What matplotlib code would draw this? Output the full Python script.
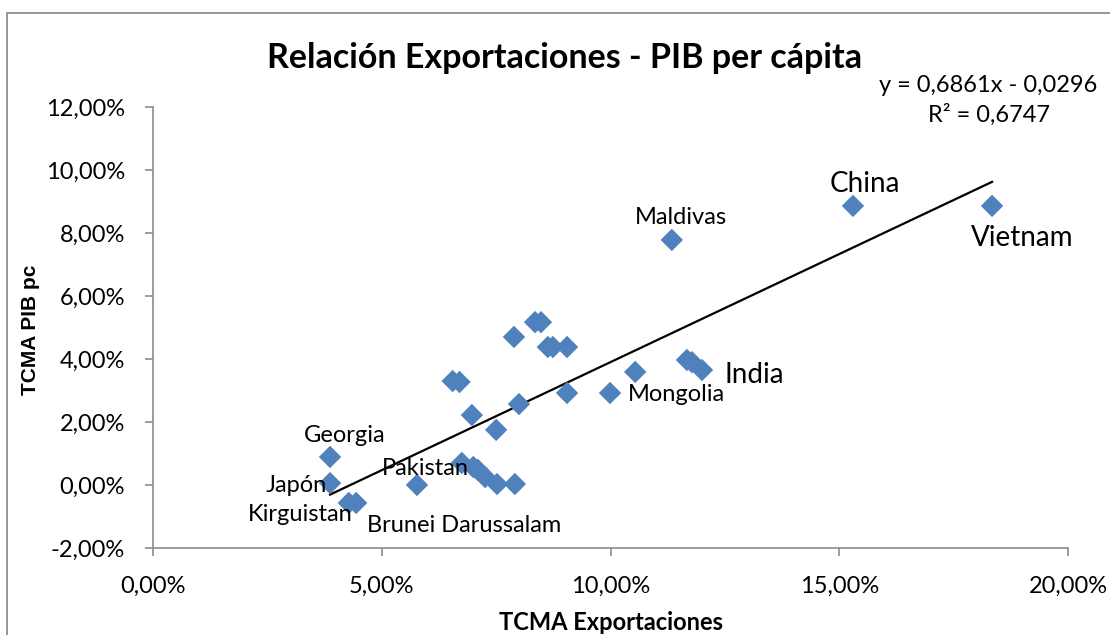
import matplotlib
matplotlib.use("Agg")
import matplotlib.pyplot as plt
from matplotlib.ticker import FuncFormatter
from matplotlib.patches import Rectangle
import numpy as np

plt.rcParams['font.family'] = ['Lato', 'DejaVu Sans']

# Compound annual growth rates (%): exports vs GDP per capita
export_growth = [3.87, 3.87, 4.28, 4.44, 5.77, 6.75, 7.00, 7.10, 7.26, 7.52, 7.91,
                 6.55, 6.70, 6.97, 7.50, 8.00, 7.89, 8.35, 8.48, 8.63, 8.74, 9.05,
                 9.05, 9.99, 10.54, 11.67, 11.78, 12.00, 11.34, 15.30, 18.34]
gdp_pc_growth = [0.89, 0.06, -0.57, -0.57, 0.00, 0.70, 0.57, 0.48, 0.25, 0.03, 0.03,
                 3.30, 3.27, 2.22, 1.75, 2.57, 4.70, 5.17, 5.17, 4.38, 4.38, 4.38,
                 2.92, 2.92, 3.59, 3.97, 3.90, 3.65, 7.78, 8.86, 8.86]

slope, intercept = 0.6861, -0.0296
r_squared = 0.6747

x_ticks = [0, 5, 10, 15, 20]
y_ticks = [-2, 0, 2, 4, 6, 8, 10, 12]

# country label: (text, x, y, font size, alignment)
labels = [
    ("Georgia", 4.20, 1.56, 17, "center"),
    ("Japón", 3.80, -0.03, 17, "right"),
    ("Kirguistan", 3.21, -0.95, 17, "center"),
    ("Brunei Darussalam", 6.80, -1.27, 17, "center"),
    ("Pakistan", 5.95, 0.51, 17, "center"),
    ("Mongolia", 11.45, 2.86, 17, "center"),
    ("India", 13.14, 3.49, 20, "center"),
    ("Maldivas", 11.54, 8.48, 17, "center"),
    ("China", 15.56, 9.56, 20, "center"),
    ("Vietnam", 18.99, 7.84, 20, "center"),
]

fig = plt.figure(figsize=(11.1, 6.35), dpi=100)
fig.patch.set_facecolor("white")
fig.add_artist(Rectangle((7 / 1110, -0.05), 1.2, 1 - 13 / 635 + 0.05,
                         transform=fig.transFigure, fill=False,
                         edgecolor="#8c8c8c", linewidth=1.3))

ax = fig.add_axes([153 / 1110, 1 - 548 / 635, (1068 - 153) / 1110, (548 - 107) / 635])
ax.set_xlim(0, 20)
ax.set_ylim(-2, 12)
ax.set_xticks(x_ticks)
ax.set_yticks(y_ticks)
pct = FuncFormatter(lambda v, _: f"{v:.2f}%".replace(".", ","))
ax.xaxis.set_major_formatter(pct)
ax.yaxis.set_major_formatter(pct)

for side in ("top", "right"):
    ax.spines[side].set_visible(False)
for side in ("left", "bottom"):
    ax.spines[side].set_color("#8c8c8c")
    ax.spines[side].set_linewidth(1.2)
ax.tick_params(axis="both", direction="out", length=6, width=1.2, color="#8c8c8c",
               labelsize=17, labelcolor="black")
ax.tick_params(axis="x", pad=14)
ax.tick_params(axis="y", pad=14)

ax.scatter(export_growth, gdp_pc_growth, marker="D", s=130, color="#4f81bd",
           edgecolors="none", zorder=3)

xs = np.array([min(export_growth), max(export_growth)])
ax.plot(xs, (slope * xs / 100 + intercept) * 100, color="black", linewidth=1.6, zorder=2)

for text, lx, ly, size, ha in labels:
    ax.text(lx, ly, text, fontsize=size, ha=ha, va="center", color="black")

eq = f"y = {slope:.4f}x - {abs(intercept):.4f}".replace(".", ",")
r2 = f"R² = {r_squared:.4f}".replace(".", ",")
fig.text(988 / 1110, 1 - 86 / 635, eq, fontsize=17, ha="center", va="center")
fig.text(989 / 1110, 1 - 115 / 635, r2, fontsize=17, ha="center", va="center")

fig.text(565 / 1110, 1 - 58 / 635, "Relación Exportaciones - PIB per cápita",
         fontsize=24.5, fontweight="bold", ha="center", va="center")
fig.text(611 / 1110, 1 - 622 / 635, "TCMA Exportaciones", fontsize=17,
         fontweight="bold", ha="center", va="center")
fig.text(30 / 1110, 1 - 330 / 635, "TCMA PIB pc", fontsize=15, fontweight="bold",
         family="Liberation Sans", rotation=90, ha="center", va="center")

fig.savefig("out.png", dpi=100, facecolor="white")
